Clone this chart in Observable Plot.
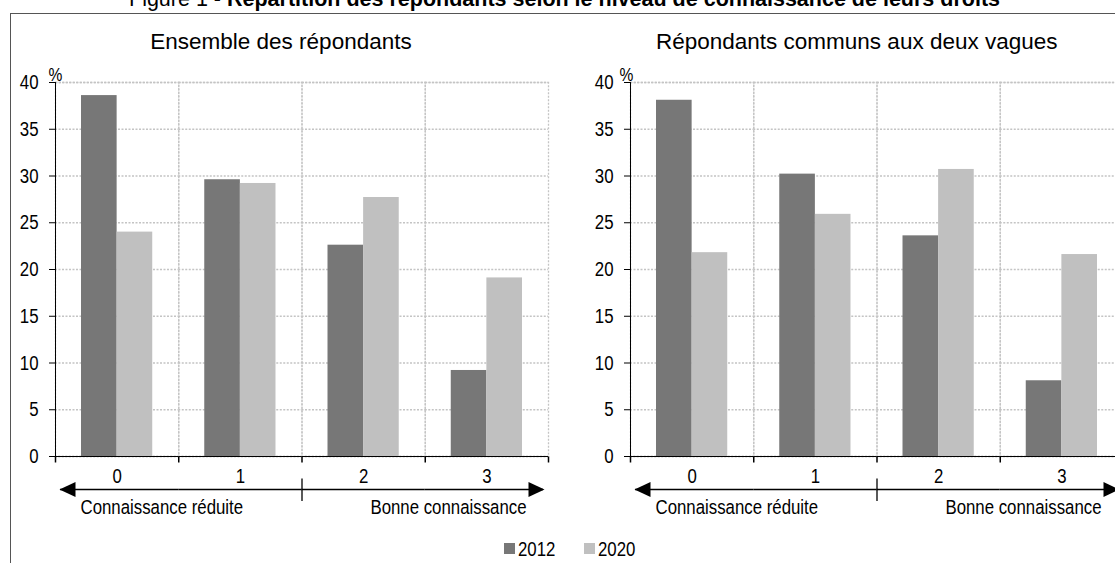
<!DOCTYPE html>
<html><head><meta charset="utf-8">
<script src="https://cdn.jsdelivr.net/npm/d3@7"></script>
<script src="https://cdn.jsdelivr.net/npm/@observablehq/plot@0.6"></script>
<style>
html,body{margin:0;padding:0;background:#fff;}
#wrap{position:relative;width:1115px;height:563px;overflow:hidden;font-family:"Liberation Sans",Arial,sans-serif;color:#000;}
#box{position:absolute;left:10px;top:13px;width:1300px;height:700px;border:1px solid #555;box-sizing:border-box;}
#fig{position:absolute;top:-11px;left:7px;width:1115px;text-align:center;font-size:21.5px;line-height:21.5px;white-space:nowrap;}
#fig b{font-weight:bold;}
.ptitle{position:absolute;top:29px;width:400px;font-size:22.5px;line-height:26px;text-align:center;white-space:nowrap;}
.panel{position:absolute;top:0;}
.sw{position:absolute;width:11px;height:11px;top:543px;}
.lt{position:absolute;top:539px;font-size:20.5px;line-height:20px;transform:scaleX(0.82);transform-origin:0 50%;}
</style></head>
<body><div id="wrap">
<div id="box"></div>
<div id="fig">Figure 1 - <b>Répartition des répondants selon le niveau de connaissance de leurs droits</b></div>
<div class="ptitle" id="t1" style="left:81px"></div>
<div class="ptitle" id="t2" style="left:656px"></div>
<div class="panel" id="p1" style="left:0px"></div>
<div class="panel" id="p2" style="left:557px"></div>
<div id="legend"></div>
</div>
<script>
// ---- data ----
const panelTitles = ["Ensemble des répondants", "Répondants communs aux deux vagues"];
const categories = ["0", "1", "2", "3"];
const years = ["2012", "2020"];
const yearColors = ["#777777", "#c0c0c0"];
const ensemble2012 = [38.6, 29.6, 22.6, 9.2];
const ensemble2020 = [24.0, 29.2, 27.7, 19.1];
const communs2012 = [38.1, 30.2, 23.6, 8.1];
const communs2020 = [21.8, 25.9, 30.7, 21.6];
const yTicks = [0, 5, 10, 15, 20, 25, 30, 35, 40];
const yUnit = "%";
const scaleEnds = ["Connaissance réduite", "Bonne connaissance"];

// ---- symbols (drawing styles) ----
const tickDown = {draw(c){c.moveTo(0,0); c.lineTo(0,6);}};
const divider = {draw(c){c.moveTo(0,-11); c.lineTo(0,11.5);}};
const headLeft = {draw(c){c.moveTo(0,0); c.lineTo(16,-7.5); c.lineTo(16,7.5); c.closePath();}};
const headRight = {draw(c){c.moveTo(0,0); c.lineTo(-16,-7.5); c.lineTo(-16,7.5); c.closePath();}};

const gridColor = "#c4c4c4";
const dash = "2,1.5";
const fs = 20.5;
const condense = 0.82;

function panel(v12, v20, marginLeft, width, unitDx) {
  const rows = categories.flatMap((c, i) => [
    {cat: c, year: years[0], value: v12[i]},
    {cat: c, year: years[1], value: v20[i]}
  ]);
  const first = categories[0], last = categories[categories.length - 1];
  const mid = categories[Math.floor(categories.length / 2)];
  return Plot.plot({
    width, height: 563,
    marginLeft, marginRight: width - marginLeft - 493, marginTop: 82, marginBottom: 107,
    style: {fontFamily: '"Liberation Sans", Arial, sans-serif', fontSize: fs + "px", color: "#000", background: "transparent", overflow: "visible", maxWidth: "none"},
    fx: {domain: categories, padding: 0, round: false},
    x: {domain: years, paddingInner: 0, paddingOuter: 0.73, round: false, axis: null},
    y: {domain: [0, 40], axis: null},
    color: {domain: years, range: yearColors},
    marks: [
      Plot.gridY(yTicks, {stroke: gridColor, strokeOpacity: 1, strokeDasharray: dash, strokeWidth: 1.3}),
      Plot.frame({stroke: gridColor, strokeDasharray: dash, strokeWidth: 1.3}),
      Plot.barY(rows, {fx: "cat", x: "year", y: "value", fill: "year"}),
      Plot.ruleY([0], {stroke: "#000"}),
      Plot.frame({anchor: "left", facet: "super", stroke: "#000"}),
      Plot.axisY({ticks: yTicks, tickSize: 6, tickPadding: 11, fontSize: fs, label: null, stroke: "#000", fill: "#000"}),
      Plot.axisFx({anchor: "bottom", tickSize: 0, tickPadding: 12, fontSize: fs, label: null, fill: "#000"}),
      Plot.dot(categories, {fx: d => d, frameAnchor: "bottom-left", symbol: tickDown, stroke: "#000", fill: "none"}),
      Plot.dot([last], {fx: d => d, frameAnchor: "bottom-right", symbol: tickDown, stroke: "#000", fill: "none"}),
      Plot.ruleY(categories.slice(1, -1), {fx: d => d, y: 0, dy: 33, stroke: "#000", strokeWidth: 1.4}),
      Plot.ruleY([first], {fx: d => d, y: 0, dy: 33, insetLeft: 5, stroke: "#000", strokeWidth: 1.4}),
      Plot.ruleY([last], {fx: d => d, y: 0, dy: 33, insetRight: 5, stroke: "#000", strokeWidth: 1.4}),
      Plot.dot([first], {fx: d => d, frameAnchor: "bottom-left", dx: 4, dy: 33, symbol: headLeft, fill: "#000", stroke: "none"}),
      Plot.dot([last], {fx: d => d, frameAnchor: "bottom-right", dx: -4, dy: 33, symbol: headRight, fill: "#000", stroke: "none"}),
      Plot.dot([mid], {fx: d => d, frameAnchor: "bottom-left", dy: 33, symbol: divider, stroke: "#000", strokeWidth: 1.3, fill: "none"}),
      Plot.text([scaleEnds[0]], {fx: () => first, frameAnchor: "bottom-left", text: d => d, textAnchor: "start", dx: 25, dy: 57, fontSize: fs, fill: "#000"}),
      Plot.text([scaleEnds[1]], {fx: () => last, frameAnchor: "bottom-right", text: d => d, textAnchor: "end", dx: -22, dy: 57, fontSize: fs, fill: "#000"}),
      Plot.text([yUnit], {facet: "super", frameAnchor: "top-left", text: d => d, textAnchor: "middle", dx: unitDx, dy: -15, fontSize: 19, fill: "#000"})
    ]
  });
}

// condensed look for the chart's small texts (reference uses a narrow face)
function narrowTexts(svg) {
  svg.querySelectorAll("text").forEach(t => {
    if (!t.textContent) return;
    const L = t.getComputedTextLength();
    if (L > 0) {
      t.setAttribute("textLength", (L * condense).toFixed(2));
      t.setAttribute("lengthAdjust", "spacingAndGlyphs");
    }
  });
}

document.getElementById("t1").textContent = panelTitles[0];
document.getElementById("t2").textContent = panelTitles[1];
const s1 = panel(ensemble2012, ensemble2020, 55, 557, 0);
const s2 = panel(communs2012, communs2020, 73, 575, -4);
document.getElementById("p1").appendChild(s1);
document.getElementById("p2").appendChild(s2);
narrowTexts(s1);
narrowTexts(s2);

// legend
const legend = document.getElementById("legend");
const swLeft = [504, 584], txtLeft = [518, 598];
years.forEach((y, i) => {
  const s = document.createElement("div");
  s.className = "sw"; s.style.left = swLeft[i] + "px"; s.style.background = yearColors[i];
  legend.appendChild(s);
  const t = document.createElement("div");
  t.className = "lt"; t.style.left = txtLeft[i] + "px"; t.textContent = y;
  legend.appendChild(t);
});
</script>
</body></html>
